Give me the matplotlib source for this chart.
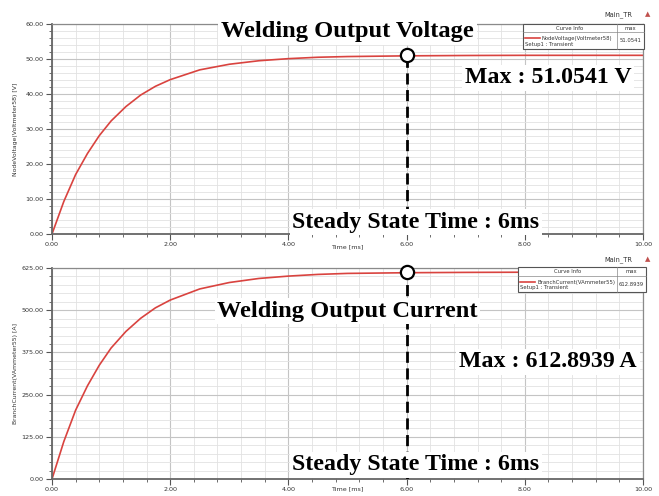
import matplotlib
matplotlib.use("Agg")
import matplotlib.pyplot as plt
from matplotlib.lines import Line2D
from matplotlib.patches import Rectangle
from matplotlib.ticker import MultipleLocator, FormatStrFormatter

# values
time_ms = [0.0, 0.2, 0.4, 0.6, 0.8, 1.0, 1.25, 1.5, 1.75, 2.0, 2.5, 3.0,
           3.5, 4.0, 4.5, 5.0, 6.0, 7.0, 8.0, 9.0, 10.0]
voltage = [0.0, 9.3, 17.0, 23.0, 28.1, 32.3, 36.4, 39.7, 42.2, 44.1, 46.9,
           48.5, 49.5, 50.1, 50.5, 50.7, 50.9, 51.0, 51.05, 51.05, 51.05]
current = [0.0, 111, 204, 276, 337, 388, 437, 476, 507, 530, 563, 582,
           594, 601, 606, 609, 611, 612, 612.5, 612.8, 612.9]

steady_t = 6.0
v_max = 51.0541
i_max = 612.8939

W, H = 659, 496
fig = plt.figure(figsize=(W / 100, H / 100), dpi=100)
fig.patch.set_facecolor("white")

SERIF = ["Liberation Serif", "DejaVu Serif"]
RED = "#d9433f"


def fx(px):
    return px / W


def fy(py):
    return 1 - py / H


def setup_axes(ax, ymax, ymajor, yminor, ylabel, xlab_y):
    ax.set_xlim(0, 10)
    ax.set_ylim(0, ymax)
    ax.xaxis.set_major_locator(MultipleLocator(2))
    ax.xaxis.set_minor_locator(MultipleLocator(0.4))
    ax.yaxis.set_major_locator(MultipleLocator(ymajor))
    ax.yaxis.set_minor_locator(MultipleLocator(yminor))
    ax.xaxis.set_major_formatter(FormatStrFormatter("%.2f"))
    ax.yaxis.set_major_formatter(FormatStrFormatter("%.2f"))
    ax.grid(which="major", color="#c4c4c4", lw=0.8)
    ax.grid(which="minor", color="#e2e2e2", lw=0.6)
    ax.set_axisbelow(True)
    ax.tick_params(which="major", direction="out", length=4, width=0.8,
                   color="#555555", labelsize=4.6, labelcolor="#333333", pad=2)
    ax.tick_params(which="minor", direction="out", length=2, width=0.6,
                   color="#555555")
    for side in ["top", "right"]:
        ax.spines[side].set_color("#8a8a8a")
        ax.spines[side].set_linewidth(0.9)
    for side in ["left", "bottom"]:
        ax.spines[side].set_color("#666666")
        ax.spines[side].set_linewidth(1.3)
    ax.set_xlabel("Time [ms]", fontsize=4.6, color="#333333")
    ax.xaxis.set_label_coords(0.5, xlab_y)
    ax.set_ylabel(ylabel, fontsize=4.4, color="#333333")
    ax.yaxis.set_label_coords(-0.057, 0.5)


def annotate(ax, y_top, title, title_y, max_txt, max_y, steady_y):
    box = dict(facecolor="white", edgecolor="none", pad=2)
    ax.plot([steady_t, steady_t], [0, y_top], color="black", lw=2.0,
            dashes=(4, 2), zorder=3)
    ax.text(5.0, title_y, title, family=SERIF, fontweight="bold",
            fontsize=17.6, ha="center", va="center", bbox=box, zorder=5)
    ax.text(8.39, max_y, max_txt, family=SERIF, fontweight="bold",
            fontsize=17.2, ha="center", va="center", bbox=box, zorder=5)
    ax.text(6.16, steady_y, "Steady State Time : 6ms", family=SERIF,
            fontweight="bold", fontsize=17.2, ha="center", va="center",
            bbox=box, zorder=5)
    ax.plot([steady_t], [y_top], marker="o", ms=9.5, mfc="white",
            mec="black", mew=1.6, zorder=6, clip_on=False)


def curve_info(x0, x1, y0, y1, xdiv, yhead, name, value):
    fig.add_artist(Rectangle((fx(x0), fy(y1)), fx(x1) - fx(x0),
                             fy(y0) - fy(y1), facecolor="white",
                             edgecolor="#555555", lw=0.8,
                             transform=fig.transFigure, zorder=7))
    fig.add_artist(Line2D([fx(xdiv)] * 2, [fy(y0), fy(y1)], color="#888888",
                          lw=0.5, transform=fig.transFigure, zorder=8))
    fig.add_artist(Line2D([fx(x0), fx(x1)], [fy(yhead)] * 2, color="#888888",
                          lw=0.5, transform=fig.transFigure, zorder=8))
    fs = 3.8
    fig.text(fx((x0 + xdiv) / 2), fy((y0 + yhead) / 2), "Curve Info",
             fontsize=fs, ha="center", va="center", color="#333333", zorder=9)
    fig.text(fx((xdiv + x1) / 2), fy((y0 + yhead) / 2), "max",
             fontsize=fs, ha="center", va="center", color="#333333", zorder=9)
    ry = yhead + (y1 - yhead) * 0.38
    fig.add_artist(Line2D([fx(x0 + 2), fx(x0 + 17)], [fy(ry)] * 2,
                          color=RED, lw=1.2, transform=fig.transFigure,
                          zorder=9))
    fig.text(fx(x0 + 19), fy(ry), name, fontsize=fs, ha="left",
             va="center", color="#333333", zorder=9)
    fig.text(fx(x0 + 2), fy(yhead + (y1 - yhead) * 0.75), "Setup1 : Transient",
             fontsize=fs, ha="left", va="center", color="#333333", zorder=9)
    fig.text(fx((xdiv + x1) / 2), fy((yhead + y1) / 2), value,
             fontsize=fs, ha="center", va="center", color="#333333", zorder=9)


def main_tr(py):
    fig.text(fx(618), fy(py), "Main_TR", fontsize=4.8, ha="center",
             va="center", color="#333333")
    fig.text(fx(648), fy(py - 1), "\u25b2", fontsize=5, ha="center",
             va="center", color="#c0504d")


# top panel: voltage
ax1 = fig.add_axes([fx(52), fy(234), fx(643) - fx(52), fy(24) - fy(234)])
setup_axes(ax1, 60, 10, 2, "NodeVoltage(Voltmeter58) [V]", -0.05)
ax1.plot(time_ms, voltage, color=RED, lw=1.2, zorder=2)
annotate(ax1, v_max, "Welding Output Voltage", 57.9,
         "Max : 51.0541 V", 44.6, 3.4)
curve_info(523, 644, 24, 49, 617, 32, "NodeVoltage(Voltmeter58)", "51.0541")
main_tr(15)

# bottom panel: current
ax2 = fig.add_axes([fx(52), fy(479), fx(643) - fx(52), fy(268) - fy(479)])
setup_axes(ax2, 625, 125, 25, "BranchCurrent(VAmmeter55) [A]", -0.036)
ax2.plot(time_ms, current, color=RED, lw=1.2, zorder=2)
annotate(ax2, i_max, "Welding Output Current", 497.6,
         "Max : 612.8939 A", 346.6, 41.5)
curve_info(518, 646, 267, 292, 617, 276, "BranchCurrent(VAmmeter55)",
           "612.8939")
main_tr(260)

fig.savefig("out.png", dpi=100)
